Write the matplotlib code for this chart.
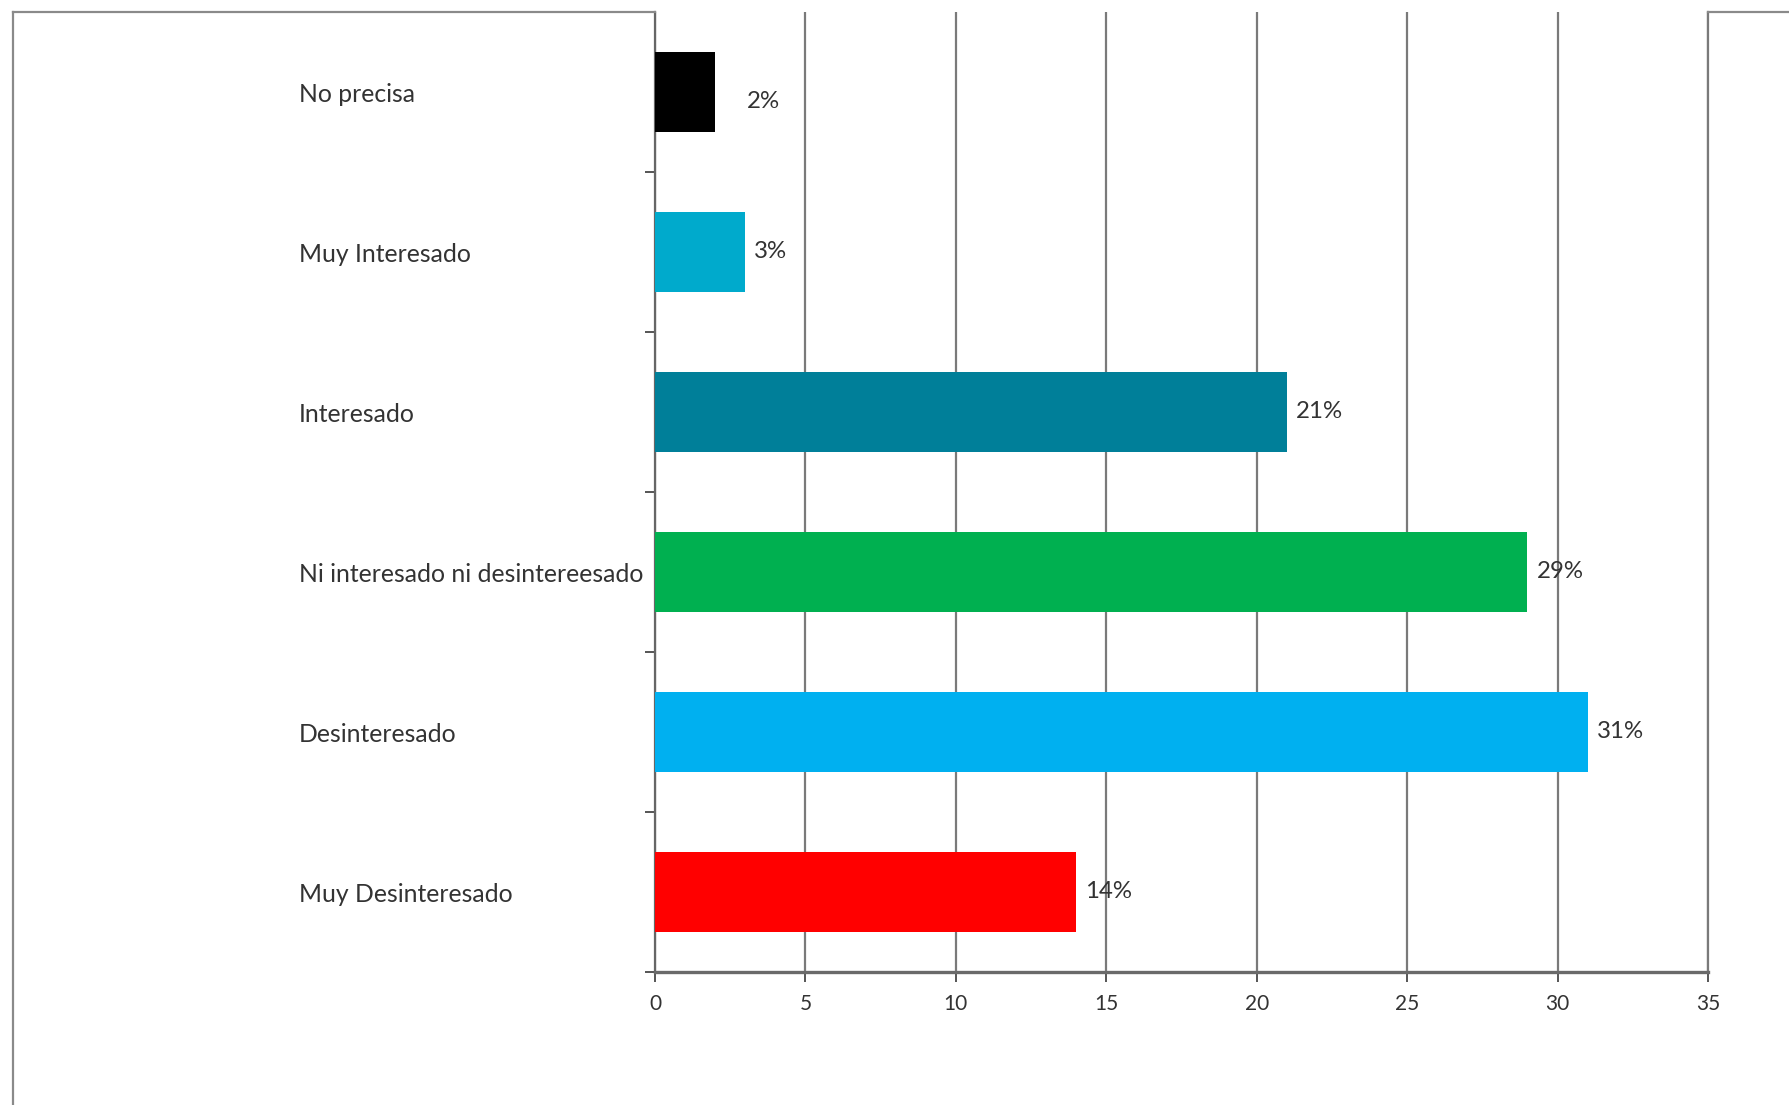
import matplotlib
matplotlib.use("Agg")
import matplotlib.pyplot as plt
from matplotlib.lines import Line2D

categories = ["Muy Desinteresado", "Desinteresado", "Ni interesado ni desintereesado",
              "Interesado", "Muy Interesado", "No precisa"]
values = [14, 31, 29, 21, 3, 2]
value_labels = ["14%", "31%", "29%", "21%", "3%", "2%"]
colors = ["#FF0000", "#00B0F0", "#00B050", "#007F99", "#00AACC", "#000000"]
xticks = [0, 5, 10, 15, 20, 25, 30, 35]

W, H = 1789, 1105
fig = plt.figure(figsize=(W / 100, H / 100), dpi=100)
fig.patch.set_facecolor("white")
plt.rcParams['font.family'] = ['Lato', 'DejaVu Sans']

L, R, T, B = 655, 1708, 12, 972
ax = fig.add_axes([L / W, 1 - B / H, (R - L) / W, (B - T) / H])
ax.set_facecolor("white")

# outer frame lines
fc = "#8a8a8a"
fig.add_artist(Line2D([13 / W, L / W], [1 - T / H, 1 - T / H], transform=fig.transFigure, color=fc, lw=1.6))
fig.add_artist(Line2D([R / W, 1], [1 - T / H, 1 - T / H], transform=fig.transFigure, color=fc, lw=1.6))
fig.add_artist(Line2D([13 / W, 13 / W], [0, 1 - T / H], transform=fig.transFigure, color=fc, lw=1.6))

y = list(range(len(categories)))
ax.barh(y, values, height=0.5, color=colors, zorder=3)

ax.set_xlim(0, 35)
ax.set_ylim(-0.5, len(categories) - 0.5)
ax.set_xticks(xticks)
ax.set_xticklabels([str(v) for v in xticks])
ax.xaxis.grid(True, color="#7a7a7a", lw=1.6, zorder=1)
ax.set_axisbelow(True)

ax.set_yticks(y)
ax.set_yticklabels(categories, ha="left", fontsize=17.8, color="#333333")
ax.tick_params(axis="y", which="major", length=0, pad=(L - 299) * 0.72)
ax.set_yticks([i - 0.5 for i in range(len(categories) + 1)], minor=True)
ax.tick_params(axis="y", which="minor", length=7, width=1.4, color="#555555", direction="out")
ax.tick_params(axis="x", length=7, width=1.4, color="#555555", direction="out",
               labelsize=15, labelcolor="#333333", pad=9)

ax.spines["top"].set_visible(False)
ax.spines["left"].set_color("#666666")
ax.spines["left"].set_linewidth(1.6)
ax.spines["right"].set_color("#7a7a7a")
ax.spines["right"].set_linewidth(1.6)
ax.spines["bottom"].set_color("#6a6a6a")
ax.spines["bottom"].set_linewidth(2.4)

for i, (v, lab) in enumerate(zip(values, value_labels)):
    if lab == "2%":
        ax.annotate(lab, (v, i), xytext=(23, -7), textcoords="offset points",
                    va="center", ha="left", fontsize=17.3, color="#333333", zorder=4)
    else:
        ax.annotate(lab, (v, i), xytext=(6.5, 0), textcoords="offset points",
                    va="center", ha="left", fontsize=17.3, color="#333333", zorder=4)

fig.savefig("out.png", dpi=100, facecolor="white")
